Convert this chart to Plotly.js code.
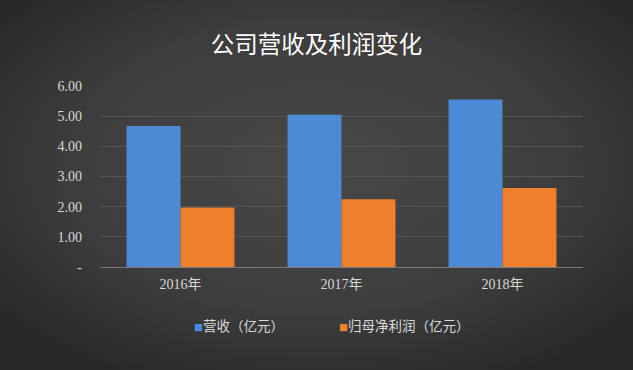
<!DOCTYPE html>
<html><head><meta charset="utf-8">
<script src="https://cdn.plot.ly/plotly-3.0.1.min.js"></script>
<style>html,body{margin:0;padding:0;background:#3a3a3a;}#chart{width:633px;height:370px;}</style>
</head><body><div id="chart"></div>
<script>
var categories = ['2016年', '2017年', '2018年'];
var revenue = [4.67, 5.05, 5.55];
var netProfit = [1.97, 2.25, 2.62];
var seriesNames = ['营收（亿元）', '归母净利润（亿元）'];
var seriesColors = ['#4d8ad6', '#ef7e2d'];
var yTickVals = [0, 1, 2, 3, 4, 5, 6];
var yTickText = ['-', '1.00', '2.00', '3.00', '4.00', '5.00', '6.00'];

var bg = 'data:image/svg+xml;utf8,' + encodeURIComponent(
 '<svg xmlns="http://www.w3.org/2000/svg" width="633" height="370"><defs><radialGradient id="g" cx="50%" cy="45%" r="65%"><stop offset="0" stop-color="#484848"/><stop offset="0.6" stop-color="#3d3d3d"/><stop offset="1" stop-color="#282828"/></radialGradient></defs><rect width="633" height="370" fill="url(#g)"/></svg>');

var serif = '"Liberation Serif", "Noto Sans CJK SC", serif';
var cjk = '"Noto Sans CJK SC", sans-serif';
var traces = [
  {type:'bar', x:categories, y:revenue, name:seriesNames[0], marker:{color:seriesColors[0]}},
  {type:'bar', x:categories, y:netProfit, name:seriesNames[1], marker:{color:seriesColors[1]}}
];
var legendAnn = seriesNames.map(function(n, i){
  return {xref:'paper', yref:'paper', x:[0.19, 0.49][i], y:-0.32, xanchor:'left', yanchor:'middle', showarrow:false,
          text:'<span style="color:' + seriesColors[i] + ';font-size:9px">■</span>' + n,
          font:{family:cjk, size:13.5, color:'#d9d9d9'}};
});
var layout = {
  width:633, height:370,
  margin:{l:100, r:50, t:86, b:103},
  paper_bgcolor:'#3a3a3a', plot_bgcolor:'rgba(0,0,0,0)',
  images:[{source:bg, xref:'paper', yref:'paper', x:-100/483, y:1+86/181, sizex:633/483, sizey:370/181, sizing:'stretch', layer:'below', xanchor:'left', yanchor:'top'}],
  title:{text:'公司营收及利润变化', x:0.5, xref:'container', y:0.88, yref:'container', xanchor:'center', yanchor:'middle',
         font:{family:cjk, size:23.5, color:'#ffffff'}},
  bargap:0.33, bargroupgap:0,
  xaxis:{showgrid:false, showline:true, linecolor:'#7a7a7a', linewidth:1, ticks:'', zeroline:false, ticklabelstandoff:4,
         tickfont:{family:serif, size:14, color:'#d9d9d9'}},
  yaxis:{range:[0,6], tickvals:yTickVals, ticktext:yTickText, showgrid:true, gridcolor:'#555555', gridwidth:1,
         zeroline:false, showline:false, ticks:'', ticklabelstandoff:17,
         tickfont:{family:serif, size:14, color:'#d9d9d9'}},
  showlegend:false,
  annotations:legendAnn
};
Plotly.newPlot('chart', traces, layout, {displayModeBar:false, staticPlot:true});
</script></body></html>
